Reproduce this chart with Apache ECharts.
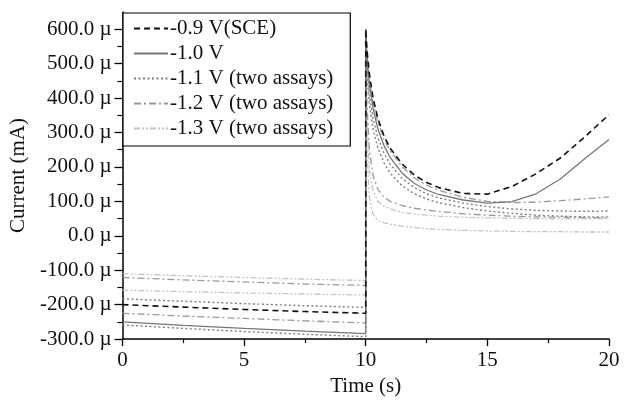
<!DOCTYPE html>
<html>
<head>
<meta charset="utf-8">
<script src="https://cdn.jsdelivr.net/npm/echarts@6/dist/echarts.min.js"></script>
<style>html,body{margin:0;padding:0;background:#fff}#c{width:627px;height:402px}</style>
</head>
<body>
<div id="c"></div>
<script>
// ---- data ----
const legendNames = ['-0.9 V(SCE)', '-1.0 V', '-1.1 V (two assays)', '-1.2 V (two assays)', '-1.3 V (two assays)'];
const yTickValues = [-300, -200, -100, 0, 100, 200, 300, 400, 500, 600];
const yMinorValues = [-250, -150, -50, 50, 150, 250, 350, 450, 550];
const xTickValues = [0, 5, 10, 15, 20];

const leftTimes = [0, 2.5, 5, 7.5, 10];
const rightTimes = [10, 10.05, 10.15, 10.3, 10.5, 10.75, 11, 11.5, 12, 12.5, 13, 14, 15, 16, 17, 18, 19, 20];

const v09Left  = [-200, -207, -214, -220, -225];
const v09Right = [600, 540, 470, 400, 340, 290, 255, 208, 176, 155, 140, 123, 121, 143, 180, 226, 287, 352];

const v10Left  = [-250, -260, -269, -277, -284];
const v10Right = [600, 520, 440, 370, 310, 262, 228, 182, 152, 133, 120, 104, 95, 99, 122, 165, 224, 280];

const v11aLeft  = [-259, -269, -278, -286, -293];
const v11aRight = [600, 500, 410, 340, 285, 240, 208, 166, 140, 122, 110, 95, 85, 78, 74, 72, 71, 72];
const v11bLeft  = [-183, -190, -197, -203, -208];
const v11bRight = [600, 470, 380, 310, 255, 212, 182, 145, 122, 107, 96, 82, 72, 65, 60, 57, 55, 55];

const v12aLeft  = [-121, -128, -134, -140, -144];
const v12aRight = [600, 530, 450, 385, 330, 280, 248, 200, 168, 147, 132, 112, 100, 96, 98, 102, 107, 113];
const v12bLeft  = [-225, -233, -240, -247, -253];
const v12bRight = [570, 380, 250, 175, 135, 112, 100, 88, 80, 75, 71, 64, 60, 57, 55, 54, 53, 53];

const v13aLeft  = [-110, -116, -121, -126, -130];
const v13aRight = [500, 250, 110, 62, 44, 38, 34, 28, 24, 21, 19, 16, 14, 13, 12, 12, 11, 11];
const v13bLeft  = [-158, -162, -166, -169, -172];
const v13bRight = [540, 330, 190, 130, 100, 86, 78, 68, 63, 60, 57, 54, 52, 51, 50, 49, 49, 49];

function build(left, right) {
  return leftTimes.map((t, i) => [t, left[i]]).concat(rightTimes.map((t, i) => [t, right[i]]));
}

const styles = [
  { color: '#111', type: [6, 4], width: 1.6 },
  { color: '#777', type: 'solid', width: 1.3 },
  { color: '#7e7e7e', type: [2, 2.5], width: 1.4 },
  { color: '#9a9a9a', type: [7, 3, 2, 3], width: 1.3 },
  { color: '#c4c4c4', type: [6, 2, 2, 2, 2, 2], width: 1.3 }
];

const curves = [
  [0, v09Left, v09Right],
  [1, v10Left, v10Right],
  [2, v11aLeft, v11aRight],
  [3, v12aLeft, v12aRight],
  [4, v13aLeft, v13aRight],
  [2, v11bLeft, v11bRight],
  [3, v12bLeft, v12bRight],
  [4, v13bLeft, v13bRight]
];

const series = curves.map(([k, l, r]) => ({
  type: 'line',
  name: legendNames[k],
  data: build(l, r),
  symbol: 'none',
  smooth: false,
  animation: false,
  lineStyle: { color: styles[k].color, type: styles[k].type, width: styles[k].width },
  itemStyle: { color: styles[k].color },
  z: 10 - k
}));

const font = 'Liberation Serif';
const fs = 21;
const chart = echarts.init(document.getElementById('c'), null, { renderer: 'canvas' });
chart.setOption({
  backgroundColor: '#fff',
  animation: false,
  grid: { left: 120, right: 18, top: 12, bottom: 53 },
  legend: {
    data: legendNames,
    orient: 'vertical',
    left: 123,
    top: 13,
    padding: [5, 17, 7, 10],
    itemGap: 4,
    itemWidth: 34,
    itemHeight: 14,
    borderColor: '#000',
    borderWidth: 1.2,
    backgroundColor: '#fff',
    itemStyle: { color: 'rgba(0,0,0,0)', borderWidth: 0, opacity: 0 },
    textStyle: { fontFamily: font, fontSize: fs, color: '#111', padding: [0, 0, 0, -3] },
    selectedMode: false
  },
  xAxis: {
    type: 'value',
    min: 0, max: 20, interval: 5,
    axisLine: { show: true, onZero: false, lineStyle: { color: '#000', width: 1.5 } },
    axisTick: { show: true, inside: false, length: 7, lineStyle: { color: '#000', width: 1.3 } },
    minorTick: { show: true, splitNumber: 2, length: 4, lineStyle: { color: '#000', width: 1.2 } },
    splitLine: { show: false },
    axisLabel: { fontFamily: font, fontSize: fs, color: '#111', margin: 11,
      formatter: v => xTickValues.indexOf(v) >= 0 ? String(v) : '' },
    name: 'Time (s)', nameLocation: 'middle', nameGap: 32,
    nameTextStyle: { fontFamily: font, fontSize: fs, color: '#111' }
  },
  yAxis: [{
    type: 'value',
    min: -300, max: 650,
    axisLine: { show: true, onZero: false, lineStyle: { color: '#000', width: 1.5 } },
    axisTick: { show: true, inside: false, length: 8, customValues: yTickValues, lineStyle: { color: '#000', width: 1.3 } },
    splitLine: { show: false },
    axisLabel: { fontFamily: font, fontSize: fs, color: '#111', margin: 11, customValues: yTickValues,
      formatter: v => v.toFixed(1) + ' µ' },
    name: 'Current (mA)', nameLocation: 'middle', nameGap: 88, nameRotate: 90,
    nameTextStyle: { fontFamily: font, fontSize: fs, color: '#111' }
  }, {
    type: 'value',
    min: -300, max: 650,
    position: 'left',
    axisLine: { show: false },
    axisTick: { show: true, inside: false, length: 5, customValues: yMinorValues, lineStyle: { color: '#000', width: 1.2 } },
    axisLabel: { show: false },
    splitLine: { show: false }
  }],
  series: series
});
</script>
</body>
</html>
